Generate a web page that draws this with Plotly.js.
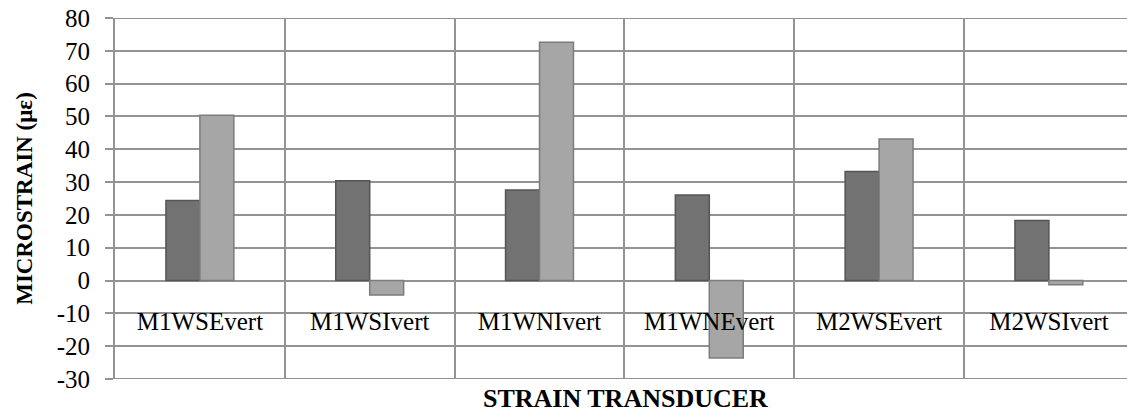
<!DOCTYPE html>
<html>
<head>
<meta charset="utf-8">
<script src="https://cdn.plot.ly/plotly-3.0.1.min.js"></script>
<style>html,body{margin:0;padding:0;background:#fff;overflow:hidden;}</style>
</head>
<body>
<div id="chart" style="width:1127px;height:412px;"></div>
<script>
const categories = ["M1WSEvert", "M1WSIvert", "M1WNIvert", "M1WNEvert", "M2WSEvert", "M2WSIvert"];
const seriesA = [24.4, 30.4, 27.6, 26.1, 33.2, 18.3];
const seriesB = [50.4, -4.4, 72.6, -23.6, 43.1, -1.3];
const yTicks = [-30, -20, -10, 0, 10, 20, 30, 40, 50, 60, 70, 80];

const gridColor = '#939393';
const serif = 'Liberation Serif';

const traces = [
  {
    type: 'bar', x: categories, y: seriesA, name: 'A',
    marker: {color: '#727272', line: {color: '#555555', width: 1.5}},
    hoverinfo: 'skip'
  },
  {
    type: 'bar', x: categories, y: seriesB, name: 'B',
    marker: {color: '#a6a6a6', line: {color: '#7c7c7c', width: 1.5}},
    hoverinfo: 'skip'
  }
];

const yMin = yTicks[0], yMax = yTicks[yTicks.length - 1];

const layout = {
  width: 1127, height: 412,
  margin: {l: 115, r: 0, t: 18, b: 33},
  paper_bgcolor: '#ffffff', plot_bgcolor: '#ffffff',
  showlegend: false,
  barmode: 'group', bargap: 0.6, bargroupgap: 0,
  font: {family: serif, color: '#000'},
  xaxis: {
    type: 'category',
    range: [-0.5, 5.46],
    anchor: 'free', position: (0 - yMin) / (yMax - yMin),
    tickson: 'boundaries',
    showgrid: true, gridcolor: gridColor, gridwidth: 2,
    ticks: '', ticklabelstandoff: 23,
    tickfont: {family: serif, size: 25, color: '#000'},
    showline: false, zeroline: false, fixedrange: true
  },
  yaxis: {
    range: [yMin, yMax],
    tickvals: yTicks,
    ticktext: yTicks.map(String),
    showgrid: true, gridcolor: gridColor, gridwidth: 2,
    zeroline: true, zerolinecolor: gridColor, zerolinewidth: 2,
    ticks: 'outside', ticklen: 8, tickwidth: 2, tickcolor: gridColor,
    ticklabelstandoff: 10,
    tickfont: {family: serif, size: 25, color: '#000'},
    showline: true, linecolor: gridColor, linewidth: 2,
    title: {text: 'MICROSTRAIN (με)', font: {family: serif, size: 23, color: '#000', weight: 'bold'}, standoff: 18},
    automargin: false, fixedrange: true
  },
  shapes: [yMin, yMax].map(v => ({
    type: 'line', xref: 'paper', yref: 'y', x0: 0, x1: 1, y0: v, y1: v,
    line: {color: gridColor, width: 2}, layer: 'below'
  })),
  annotations: [
    {
      text: '<b>STRAIN TRANSDUCER</b>', xref: 'paper', yref: 'paper',
      x: (625 - 115) / (1127 - 115), y: 0, yshift: -19, yanchor: 'middle', xanchor: 'center',
      showarrow: false, font: {family: serif, size: 26, color: '#000'}
    }
  ]
};

function draw() {
  return Plotly.newPlot('chart', traces, layout, {displayModeBar: false, staticPlot: true});
}
(document.fonts && document.fonts.ready ? document.fonts.ready : Promise.resolve()).then(draw);
</script>
</body>
</html>
